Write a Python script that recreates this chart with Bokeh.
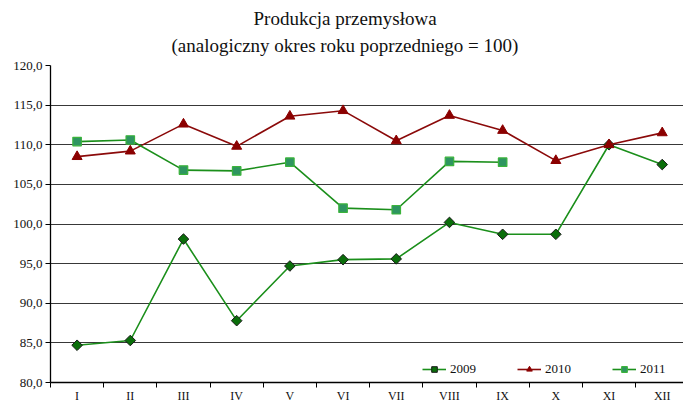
import math
from bokeh.plotting import figure
from bokeh.models import (Title, FixedTicker, Legend, LegendItem, Range1d)
from bokeh.embed import file_html
from bokeh.resources import INLINE

months = ["I", "II", "III", "IV", "V", "VI", "VII", "VIII", "IX", "X", "XI", "XII"]
y2009 = [84.7, 85.3, 98.1, 87.8, 94.7, 95.5, 95.6, 100.2, 98.7, 98.7, 110.0, 107.5]
y2010 = [108.5, 109.2, 112.6, 109.8, 113.6, 114.3, 110.5, 113.7, 111.8, 108.0, 110.0, 111.5]
y2011 = [110.4, 110.6, 106.8, 106.7, 107.8, 102.0, 101.8, 107.9, 107.8]
y_ticks = [80, 85, 90, 95, 100, 105, 110, 115, 120]
y_tick_labels = ["80,0", "85,0", "90,0", "95,0", "100,0", "105,0", "110,0", "115,0", "120,0"]
series_names = ["2009", "2010", "2011"]

FONT = "Liberation Serif"

x_pos = list(range(1, len(months) + 1))

p = figure(width=683, height=405, output_backend="svg", toolbar_location=None,
           x_range=Range1d(0.5, 12.4), y_range=Range1d(80, 120),
           min_border_left=50, min_border_right=0, min_border_top=0,
           min_border_bottom=0)
p.outline_line_color = None
p.background_fill_color = "white"
p.border_fill_color = "white"

# titles
t2 = Title(text="(analogiczny okres roku poprzedniego = 100)", align="left",
           text_font=FONT, text_font_size="19px", text_font_style="normal",
           text_color="#111111", offset=121, standoff=19)
t1 = Title(text="Produkcja przemysłowa", align="left",
           text_font=FONT, text_font_size="19px", text_font_style="normal",
           text_color="#111111", offset=203, standoff=-10)
t0 = Title(text=" ", text_font=FONT, text_font_size="7px", standoff=0)
p.add_layout(t2, "above")
p.add_layout(t1, "above")
p.add_layout(t0, "above")

# axes
p.xaxis.ticker = FixedTicker(ticks=x_pos, minor_ticks=[i + 0.5 for i in range(0, 12)])
p.xaxis.major_label_overrides = {i: m for i, m in zip(x_pos, months)}
p.xaxis.major_tick_line_color = None
p.xaxis.major_tick_out = 0
p.xaxis.major_tick_in = 0
p.xaxis.minor_tick_line_color = "black"
p.xaxis.minor_tick_out = 5
p.xaxis.minor_tick_in = 0
p.xaxis.axis_line_color = "black"
p.xaxis.axis_line_width = 1.3
p.xaxis.major_label_text_font = FONT
p.xaxis.major_label_text_font_size = "12px"
p.xaxis.major_label_text_color = "#111111"
p.xaxis.major_label_standoff = 1
p.xaxis.axis_label_standoff = 0

p.yaxis.ticker = FixedTicker(ticks=y_ticks, minor_ticks=[])
p.yaxis.major_label_overrides = {t: l for t, l in zip(y_ticks, y_tick_labels)}
p.yaxis.major_tick_out = 5
p.yaxis.major_tick_in = 0
p.yaxis.major_tick_line_color = "black"
p.yaxis.axis_line_color = "black"
p.yaxis.axis_line_width = 1.3
p.yaxis.major_label_text_font = FONT
p.yaxis.major_label_text_font_size = "13px"
p.yaxis.major_label_text_color = "#111111"
p.yaxis.major_label_standoff = 3

p.xgrid.grid_line_color = None
p.ygrid.ticker = FixedTicker(ticks=y_ticks)
p.ygrid.grid_line_color = "#383838"
p.ygrid.grid_line_width = 1

# series
l1 = p.line(x_pos, y2009, line_color="#1b8f1b", line_width=1.6)
m1 = p.scatter(x_pos, y2009, marker="square", angle=math.pi / 4, size=7.5,
               fill_color="#0a6e0a", line_color="#1a1a1a", line_width=1)
l2 = p.line(x_pos, y2010, line_color="#8b0a0a", line_width=1.6)
m2 = p.scatter(x_pos, y2010, marker="triangle", size=10, fill_color="#8b0000",
               line_color="#8b0000", line_width=1)
x11 = x_pos[:len(y2011)]
l3 = p.line(x11, y2011, line_color="#1b8f1b", line_width=1.6)
m3 = p.scatter(x11, y2011, marker="square", size=8.5, fill_color="#2e9560",
               line_color="#3bb33b", line_width=1.2)

legend = Legend(items=[LegendItem(label=series_names[0], renderers=[l1, m1]),
                       LegendItem(label=series_names[1], renderers=[l2, m2]),
                       LegendItem(label=series_names[2], renderers=[l3, m3])],
                orientation="horizontal", location=(372, 5),
                border_line_color=None, background_fill_alpha=0,
                label_text_font=FONT, label_text_font_size="13px",
                label_text_color="#111111",
                glyph_width=24, glyph_height=14, spacing=41, padding=2,
                margin=0, label_standoff=4)
p.add_layout(legend, "center")

open("out.html", "w").write(file_html(p, INLINE))
